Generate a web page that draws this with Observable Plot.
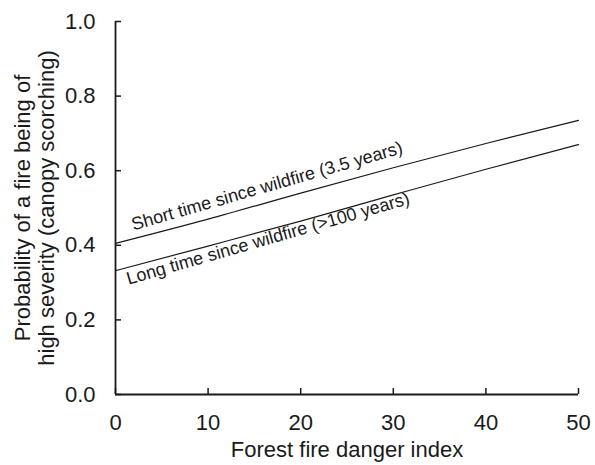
<!DOCTYPE html>
<html>
<head>
<meta charset="utf-8">
<script src="https://cdn.jsdelivr.net/npm/d3@7"></script>
<script src="https://cdn.jsdelivr.net/npm/@observablehq/plot@0.6"></script>
<style>
  html, body { margin: 0; padding: 0; background: #fff; }
</style>
</head>
<body>
<div id="chart"></div>
<script>
// Forest fire danger index values at which the curves are read
const ffdi = [0, 10, 20, 30, 40, 50];
// Probability of high severity fire, short time since wildfire (3.5 years)
const shortSince = [0.405, 0.470, 0.540, 0.608, 0.673, 0.735];
// Probability of high severity fire, long time since wildfire (>100 years)
const longSince = [0.332, 0.398, 0.465, 0.535, 0.604, 0.670];
const seriesNames = ["Short time since wildfire (3.5 years)", "Long time since wildfire (>100 years)"];
const xTicks = [0, 10, 20, 30, 40, 50];
const yTicks = [0, 0.2, 0.4, 0.6, 0.8, 1.0];
const xTitle = "Forest fire danger index";
const yTitle = "Probability of a fire being of\nhigh severity (canopy scorching)";

const rows = [
  ...ffdi.map((x, i) => ({series: seriesNames[0], x, y: shortSince[i]})),
  ...ffdi.map((x, i) => ({series: seriesNames[1], x, y: longSince[i]}))
];
const shortRows = rows.filter(d => d.series === seriesNames[0]);
const longRows = rows.filter(d => d.series === seriesNames[1]);

const ink = "#1a1a1a";
const fs = 22;

const chart = Plot.plot({
  width: 595,
  height: 465,
  marginLeft: 115,
  marginRight: 17,
  marginTop: 21,
  marginBottom: 71,
  style: {fontFamily: "'Liberation Sans', Arial, sans-serif", fontSize: "22px", color: ink, background: "#fff"},
  x: {domain: [0, 50]},
  y: {domain: [0, 1]},
  marks: [
    Plot.axisX(xTicks, {tickSize: -6, tickPadding: 26, tickFormat: d3.format("d"), label: null, stroke: ink, strokeWidth: 1.5, fill: ink, fontSize: fs}),
    Plot.axisY(yTicks, {tickSize: -6, tickPadding: 26, tickFormat: d3.format(".1f"), label: null, stroke: ink, strokeWidth: 1.5, fill: ink, fontSize: fs}),
    Plot.ruleX([0], {y1: 0, y2: 1, stroke: ink, strokeWidth: 1.8}),
    Plot.ruleY([0], {x1: 0, x2: 50, stroke: ink, strokeWidth: 1.8}),
    Plot.line(rows, {x: "x", y: "y", z: "series", stroke: ink, strokeWidth: 1.2, curve: "monotone-x"}),
    Plot.text(shortRows.slice(0, 1), {x: "x", y: "y", text: "series", rotate: -16, textAnchor: "start", lineAnchor: "bottom", dx: 18, dy: -13, fontSize: 18, fill: ink}),
    Plot.text(longRows.slice(0, 1), {x: "x", y: "y", text: "series", rotate: -16, textAnchor: "start", lineAnchor: "bottom", dx: 13, dy: 14, fontSize: 18, fill: ink}),
    Plot.text([xTitle], {frameAnchor: "bottom", text: d => d, dy: 62, lineAnchor: "bottom", textAnchor: "middle", fontSize: fs, fill: ink}),
    Plot.text([yTitle], {frameAnchor: "left", text: d => d, rotate: -90, dx: -81, lineAnchor: "middle", textAnchor: "middle", lineHeight: 1.1, fontSize: fs, fill: ink})
  ]
});
document.getElementById("chart").appendChild(chart);
</script>
</body>
</html>
